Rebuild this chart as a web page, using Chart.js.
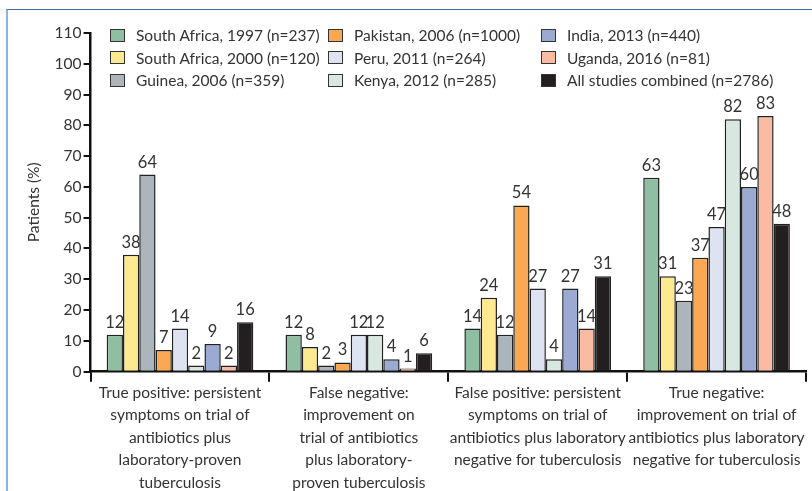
<!DOCTYPE html>
<html>
<head>
<meta charset="utf-8">
<script src="https://cdn.jsdelivr.net/npm/chart.js@4"></script>
<style>
  html, body { margin: 0; padding: 0; background: #fff; overflow: hidden; }
  #wrap { position: absolute; left: 6px; top: 9px; width: 806px; height: 500px;
          border-left: 2px solid #8fb2de; border-top: 1px solid #3a6aa6; box-sizing: border-box; }
  #chart { position: absolute; left: 0; top: 0; }
  #legend { position: absolute; left: 102px; top: 14px; display: grid;
            grid-template-rows: repeat(3, 22.5px); grid-auto-flow: column;
            grid-template-columns: 218px 213px 240px;
            font-family: Lato, sans-serif; font-size: 15.5px; color: #333; }
  #legend div { display: flex; align-items: center; white-space: nowrap; }
  #legend span.sw { display: inline-block; width: 15px; height: 13px; border: 1.5px solid #333;
                    margin-right: 11px; box-sizing: border-box; }
</style>
</head>
<body>
<div id="wrap">
  <canvas id="chart" width="804" height="484"></canvas>
  <div id="legend"></div>
</div>
<script>
const categories = [
  ["True positive: persistent", "symptoms on trial of", "antibiotics plus", "laboratory-proven", "tuberculosis"],
  ["False negative:", "improvement on", "trial of antibiotics", "plus laboratory-", "proven tuberculosis"],
  ["False positive: persistent", "symptoms on trial of", "antibiotics plus laboratory", "negative for tuberculosis"],
  ["True negative:", "improvement on trial of", "antibiotics plus laboratory", "negative for tuberculosis"]
];

const studies = [
  "South Africa, 1997 (n=237)",
  "South Africa, 2000 (n=120)",
  "Guinea, 2006 (n=359)",
  "Pakistan, 2006 (n=1000)",
  "Peru, 2011 (n=264)",
  "Kenya, 2012 (n=285)",
  "India, 2013 (n=440)",
  "Uganda, 2016 (n=81)",
  "All studies combined (n=2786)"
];

const colors = ["#8fbea2", "#fde98f", "#adb5bc", "#fba854", "#dde3f0", "#d8e8e0", "#9aaad3", "#f9bca3", "#231f20"];

// one array per study: TP, FN, FP, TN
const southAfrica1997 = [12, 12, 14, 63];
const southAfrica2000 = [38, 8, 24, 31];
const guinea2006 = [64, 2, 12, 23];
const pakistan2006 = [7, 3, 54, 37];
const peru2011 = [14, 12, 27, 47];
const kenya2012 = [2, 12, 4, 82];
const india2013 = [9, 4, 27, 60];
const uganda2016 = [2, 1, 14, 83];
const allCombined = [16, 6, 31, 48];

const seriesValues = [southAfrica1997, southAfrica2000, guinea2006, pakistan2006, peru2011,
                      kenya2012, india2013, uganda2016, allCombined];

const yTicks = [0, 10, 20, 30, 40, 50, 60, 70, 80, 90, 100, 110];

const FONT = "Lato, sans-serif";
const TXT = "#333";

// legend
const legend = document.getElementById("legend");
studies.forEach((s, i) => {
  const d = document.createElement("div");
  d.innerHTML = '<span class="sw" style="background:' + colors[i] + '"></span>' + s;
  legend.appendChild(d);
});

const valueLabels = {
  id: "valueLabels",
  afterDatasetsDraw(chart) {
    const ctx = chart.ctx;
    ctx.save();
    ctx.font = "16.5px " + FONT;
    ctx.fillStyle = TXT;
    ctx.textAlign = "center";
    ctx.textBaseline = "bottom";
    chart.data.datasets.forEach((ds, i) => {
      chart.getDatasetMeta(i).data.forEach((bar, j) => {
        ctx.fillText(ds.data[j], bar.x, bar.y - 4);
      });
    });
    ctx.restore();
  }
};

new Chart(document.getElementById("chart"), {
  type: "bar",
  data: {
    labels: categories,
    datasets: seriesValues.map((vals, i) => ({
      label: studies[i],
      data: vals,
      backgroundColor: colors[i],
      borderColor: "#222",
      borderWidth: 1.5,
      barPercentage: 1,
      categoryPercentage: 0.82
    }))
  },
  options: {
    responsive: false,
    animation: false,
    layout: { padding: { left: 17, right: 6, top: 23, bottom: 0 } },
    plugins: { legend: { display: false }, tooltip: { enabled: false } },
    scales: {
      x: {
        grid: { offset: true, drawOnChartArea: false, drawTicks: true, tickLength: 10, color: "#111", lineWidth: 2 },
        border: { display: true, color: "#111", width: 2.5 },
        ticks: { color: TXT, font: { family: FONT, size: 15.5, lineHeight: 1.45 }, padding: 0, maxRotation: 0, autoSkip: false }
      },
      y: {
        min: 0,
        max: 110,
        afterBuildTicks(axis) { axis.ticks = yTicks.map(v => ({ value: v })); },
        grid: { drawOnChartArea: false, tickLength: 7, color: "#111", lineWidth: 2 },
        border: { display: true, color: "#111", width: 2.5 },
        ticks: { color: TXT, font: { family: FONT, size: 15.5 }, padding: 2 },
        title: { display: true, text: "Patients (%)", color: TXT, font: { family: FONT, size: 15.5 }, padding: { top: 0, bottom: 9 } }
      }
    }
  },
  plugins: [valueLabels]
});
</script>
</body>
</html>
